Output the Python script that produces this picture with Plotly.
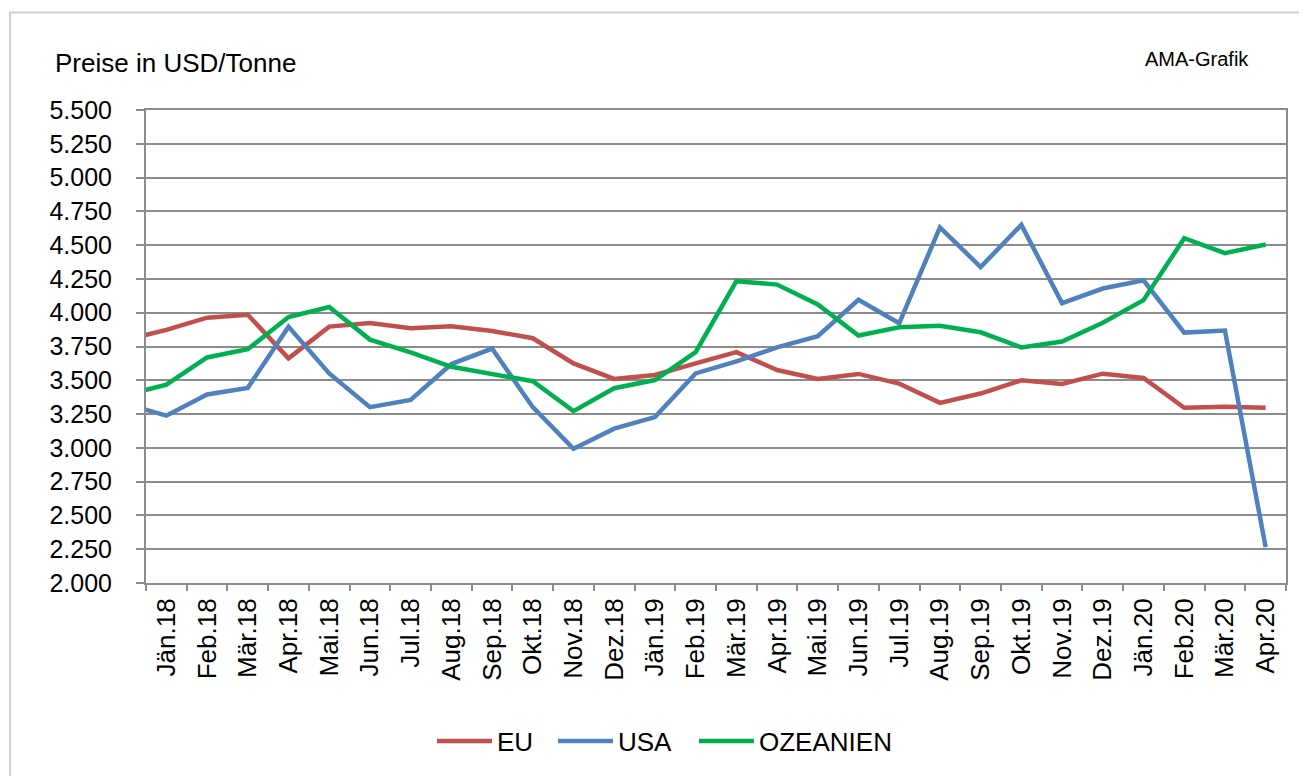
import plotly.graph_objects as go

# Categories (first one lies just outside the visible range, its segment is clipped at the axis)
months = ["Dez.17",
          "Jän.18", "Feb.18", "Mär.18", "Apr.18", "Mai.18", "Jun.18", "Jul.18", "Aug.18",
          "Sep.18", "Okt.18", "Nov.18", "Dez.18",
          "Jän.19", "Feb.19", "Mär.19", "Apr.19", "Mai.19", "Jun.19", "Jul.19", "Aug.19",
          "Sep.19", "Okt.19", "Nov.19", "Dez.19",
          "Jän.20", "Feb.20", "Mär.20", "Apr.20"]

eu = [3800, 3873, 3963, 3985, 3662, 3897, 3924, 3885, 3900, 3865, 3811, 3625, 3510,
      3539, 3625, 3708, 3576, 3510, 3547, 3475, 3333, 3402, 3500, 3473, 3549,
      3517, 3297, 3304, 3297]
usa = [3326, 3238, 3395, 3444, 3897, 3551, 3301, 3355, 3620, 3735, 3301, 2993, 3142,
       3228, 3551, 3640, 3743, 3826, 4096, 3922, 4632, 4338, 4650, 4071, 4179,
       4240, 3853, 3868, 2265]
oz = [3390, 3468, 3669, 3730, 3968, 4042, 3801, 3706, 3600, 3547, 3493, 3272, 3441,
      3502, 3708, 4233, 4208, 4061, 3831, 3892, 3904, 3855, 3743, 3787, 3926,
      4093, 4551, 4441, 4505]

series = [("EU", eu, "#C0504D", "legend"),
          ("USA", usa, "#4F81BD", "legend2"),
          ("OZEANIEN", oz, "#00B050", "legend3")]

FONT = "Liberation Sans, Arial, sans-serif"
GRID = "#8c8c8c"

fig = go.Figure()
for name, vals, col, lg in series:
    fig.add_trace(go.Scatter(x=months, y=vals, name=name, mode="lines", legend=lg,
                             line=dict(color=col, width=4.5), cliponaxis=True))

OFF = 8  # page body margin
W, H = 1307 - OFF, 776 - OFF
L, T = 146 - OFF, 110 - OFF
R = W - (1286 - OFF)
B = H - (586 - OFF)
pw, ph = W - L - R, H - T - B

def px(x):  # screen x -> paper
    return (x - OFF - L) / pw

def py(y):  # screen y -> paper
    return (H - B - (y - OFF)) / ph

def legend_at(xs):
    return dict(orientation="h", x=px(xs), y=py(745), xanchor="left", yanchor="middle",
                font=dict(size=26), itemwidth=55, bgcolor="rgba(0,0,0,0)")

fig.update_layout(
    width=W, height=H,
    margin=dict(l=L, r=R, t=T, b=B, pad=0),
    paper_bgcolor="white", plot_bgcolor="white",
    separators=",.",
    font=dict(family=FONT, size=25, color="black"),
    showlegend=True,
    legend=legend_at(432),
    legend2=legend_at(553),
    legend3=legend_at(694),
    xaxis=dict(type="category", range=[0.5, 28.5], tickson="boundaries",
               ticks="outside", ticklen=6, tickwidth=2, tickcolor=GRID,
               showgrid=False, showline=True, linecolor=GRID, linewidth=2, mirror=True,
               tickangle=-90, tickfont=dict(size=26), ticklabelstandoff=3, zeroline=False),
    yaxis=dict(range=[2000, 5500], dtick=250, tick0=2000, tickformat=",d",
               ticks="outside", ticklen=8, tickwidth=2, tickcolor=GRID,
               showgrid=True, gridcolor=GRID, gridwidth=2,
               showline=True, linecolor=GRID, linewidth=2, mirror=True,
               tickfont=dict(size=25), ticklabelstandoff=19, zeroline=False),
    shapes=[dict(type="rect", xref="paper", yref="paper",
                 x0=px(10), x1=px(1330), y0=py(800), y1=py(12),
                 line=dict(color="#d0d0d0", width=2), fillcolor="rgba(0,0,0,0)", layer="below")],
    annotations=[
        dict(text="Preise in USD/Tonne", xref="paper", yref="paper", x=px(53), y=py(63),
             xanchor="left", yanchor="middle", showarrow=False, font=dict(size=26)),
        dict(text="AMA-Grafik", xref="paper", yref="paper", x=px(1143), y=py(59),
             xanchor="left", yanchor="middle", showarrow=False, font=dict(size=20)),
    ],
)

fig.write_html("out.html")
